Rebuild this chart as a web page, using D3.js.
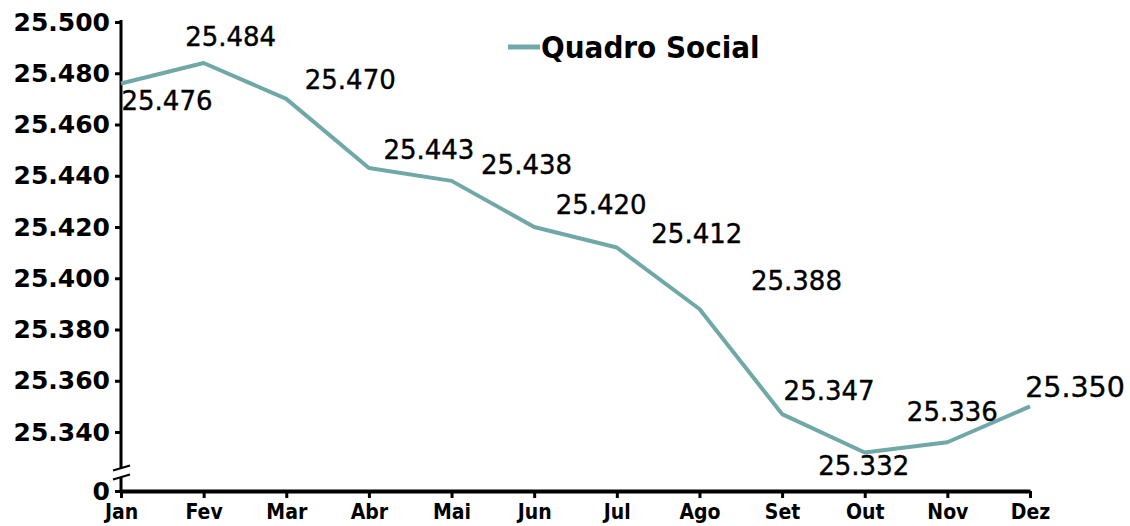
<!DOCTYPE html>
<html lang="pt">
<head>
    <meta charset="UTF-8"/>
    <title>Quadro Social</title>
    <script src="https://d3js.org/d3.v7.min.js"></script>
    <style>
        body { margin: 0; background: #fff; }
        .ytick text { font-family: "DejaVu Sans"; font-weight: bold; font-size: 25px; fill: #000; }
        .xtick text { font-family: "DejaVu Sans Condensed", "DejaVu Sans"; font-weight: bold; font-size: 21px; fill: #000; }
        .lbl { font-family: "DejaVu Sans"; font-size: 26px; fill: #000; stroke: #000; stroke-width: 0.4px; }
    </style>
</head>
<body>
    <div id="chart"></div>

    <script>
        // dados
        var months = ["Jan", "Fev", "Mar", "Abr", "Mai", "Jun", "Jul", "Ago", "Set", "Out", "Nov", "Dez"];
        var members = [25476, 25484, 25470, 25443, 25438, 25420, 25412, 25388, 25347, 25332, 25336, 25350];
        var yTicks = [25340, 25360, 25380, 25400, 25420, 25440, 25460, 25480, 25500];
        var seriesName = "Quadro Social";

        // label placement relative to each point (center dx, dy)
        var labelOffsets = [[46, 17], [27, -26], [64, -19], [60, -18], [75, -16], [67, -22],
                            [80, -14], [97, -28], [47, -23], [-1, 13], [5, -30], [45, -19]];

        var w = 1130, h = 526;
        var x0 = 121, x1 = 1030;
        var yTop = 22, yLow = 432, yZero = 491;
        var lineColor = "#70a8a8";

        var ptBR = d3.formatLocale({ decimal: ",", thousands: ".", grouping: [3], currency: ["R$", ""] });
        var fmt = ptBR.format(",d");

        var xScale = d3.scalePoint().domain(months).range([x0, x1]);
        var yScale = d3.scaleLinear().domain([25340, 25500]).range([yLow, yTop]);

        var svg = d3.select("#chart").append("svg")
                    .attr("width", w).attr("height", h);

        // y axis (upper part)
        var yAxis = svg.append("g")
            .attr("class", "ytick")
            .attr("transform", "translate(" + x0 + ",0)")
            .call(d3.axisLeft(yScale).tickValues(yTicks).tickFormat(fmt).tickSize(6).tickPadding(5));
        yAxis.select(".domain").remove();
        yAxis.selectAll("line").attr("stroke", "#000").attr("stroke-width", 3);

        // zero tick below the break
        var zeroScale = d3.scaleLinear().domain([0, 1]).range([yZero, yZero - 10]);
        var zAxis = svg.append("g")
            .attr("class", "ytick")
            .attr("transform", "translate(" + x0 + ",0)")
            .call(d3.axisLeft(zeroScale).tickValues([0]).tickFormat(fmt).tickSize(6).tickPadding(5));
        zAxis.select(".domain").remove();
        zAxis.selectAll("line").attr("stroke", "#000").attr("stroke-width", 3);

        // y axis line with break
        svg.append("line").attr("x1", x0).attr("x2", x0).attr("y1", yTop - 2).attr("y2", 468)
            .attr("stroke", "#000").attr("stroke-width", 3);
        svg.append("line").attr("x1", x0).attr("x2", x0).attr("y1", 477).attr("y2", yZero)
            .attr("stroke", "#000").attr("stroke-width", 3);
        svg.append("line").attr("x1", 113).attr("x2", 130).attr("y1", 470.5).attr("y2", 465.5)
            .attr("stroke", "#000").attr("stroke-width", 2);
        svg.append("line").attr("x1", 113).attr("x2", 130).attr("y1", 479.5).attr("y2", 474.5)
            .attr("stroke", "#000").attr("stroke-width", 2);

        // x axis
        var xAxis = svg.append("g")
            .attr("class", "xtick")
            .attr("transform", "translate(0," + yZero + ")")
            .call(d3.axisBottom(xScale).tickSize(7).tickPadding(6).tickSizeOuter(0));
        xAxis.select(".domain").attr("stroke", "#000").attr("stroke-width", 4);
        xAxis.selectAll("line").attr("stroke", "#000").attr("stroke-width", 3);

        // line
        var line = d3.line()
            .x(function(d, i) { return xScale(months[i]); })
            .y(function(d) { return yScale(d); });

        svg.append("path")
            .datum(members)
            .attr("d", line)
            .attr("fill", "none")
            .attr("stroke", lineColor)
            .attr("stroke-width", 4)
            .attr("stroke-linejoin", "round");

        // data labels
        svg.selectAll(".lbl")
            .data(members)
            .enter()
            .append("text")
            .attr("class", "lbl")
            .attr("text-anchor", "middle")
            .attr("dominant-baseline", "central")
            .attr("x", function(d, i) { return xScale(months[i]) + labelOffsets[i][0]; })
            .attr("y", function(d, i) { return yScale(d) + labelOffsets[i][1]; })
            .style("font-size", function(d, i) { return i === members.length - 1 ? "28.5px" : null; })
            .text(function(d) { return fmt(d); });

        // legend
        var legend = svg.append("g").attr("transform", "translate(508,47)");
        legend.append("line").attr("x1", 0).attr("x2", 32).attr("y1", 0).attr("y2", 0)
            .attr("stroke", lineColor).attr("stroke-width", 5);
        legend.append("text")
            .attr("x", 33).attr("y", 0)
            .attr("dominant-baseline", "central")
            .style("font-family", "'DejaVu Sans Condensed', 'DejaVu Sans'")
            .style("font-weight", "bold")
            .style("font-size", "31px")
            .text(seriesName);
    </script>
</body>
</html>
